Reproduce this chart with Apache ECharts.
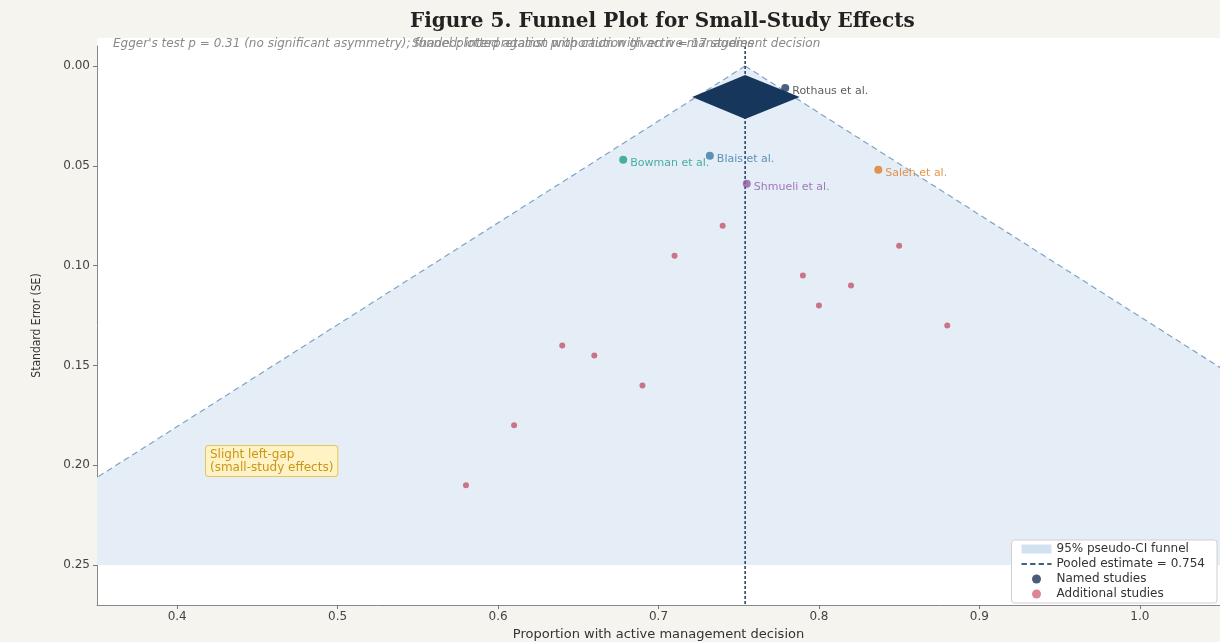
<!DOCTYPE html>
<html>
<head>
<meta charset="utf-8">
<script src="https://cdn.jsdelivr.net/npm/echarts@6/dist/echarts.min.js"></script>
<style>
html,body{margin:0;padding:0;background:#f6f4ef;}
#main{width:1220px;height:642px;}
</style>
</head>
<body>
<div id="main"></div>
<script>
// pooled estimate and funnel
var pooled = 0.754;
var pooledCI = [0.721, 0.788];
var pooledSE = 0.0155;
var funnelSE = [0, 0.25];

// named studies
var namedNames = ['Rothaus et al.', 'Blais et al.', 'Bowman et al.', 'Saleh et al.', 'Shmueli et al.'];
var namedX = [0.779, 0.732, 0.678, 0.837, 0.755];
var namedSE = [0.011, 0.045, 0.047, 0.052, 0.059];
var namedColors = ['#1f3a5f', '#3a78a8', '#1f9e89', '#e07b22', '#8e5aa8'];

// additional studies
var addX = [0.74, 0.71, 0.85, 0.79, 0.82, 0.80, 0.88, 0.64, 0.66, 0.69, 0.61, 0.58];
var addSE = [0.080, 0.095, 0.090, 0.105, 0.110, 0.120, 0.130, 0.140, 0.145, 0.160, 0.180, 0.210];

// ticks
var xTicks = [0.4, 0.5, 0.6, 0.7, 0.8, 0.9, 1.0];
var yTicks = [0, 0.05, 0.10, 0.15, 0.20, 0.25];

var myChart = echarts.init(document.getElementById('main'));

var z = 1.96;
var seTop = funnelSE[0], seBot = funnelSE[1];
var funnelPoly = [
    [pooled, seTop],
    [pooled - z * seBot, seBot],
    [pooled + z * seBot, seBot]
];

var namedData = [];
for (var i = 0; i < namedX.length; i++) {
    namedData.push({
        value: [namedX[i], namedSE[i]],
        name: namedNames[i],
        itemStyle: {color: namedColors[i]},
        label: {color: i == 0 ? '#333' : namedColors[i]}
    });
}
var addData = [];
for (var j = 0; j < addX.length; j++) addData.push([addX[j], addSE[j]]);

var font = 'DejaVu Sans';

option = {
    backgroundColor: '#f6f4ef',
    animation: false,
    title: {
        text: 'Figure 5. Funnel Plot for Small-Study Effects',
        left: 405, top: 7,
        textStyle: {fontFamily: 'DejaVu Serif', fontWeight: 'bold', fontSize: 20, color: '#222'}
    },
    grid: {left: 97, right: 0, top: 46, bottom: 37, outerBoundsMode: 'none',
        show: true, backgroundColor: '#fff', borderWidth: 0},
    legend: {
        orient: 'vertical', right: 3, bottom: 39,
        backgroundColor: '#fff', borderColor: '#d0d0d0', borderWidth: 1, borderRadius: 3,
        padding: [3, 12, 3, 10], itemGap: 3, itemWidth: 30, itemHeight: 9,
        textStyle: {fontFamily: font, fontSize: 12, color: '#333'},
        data: [
            {name: '95% pseudo-CI funnel', icon: 'rect', itemStyle: {color: '#d3e2f1'}},
            {name: 'Pooled estimate = 0.754', icon: 'path://M0,4h5v2h-5z M8,4h5v2h-5z M16,4h5v2h-5z M24,4h4v2h-4z', itemStyle: {color: '#3e5f86'}},
            {name: 'Named studies', icon: 'circle', itemStyle: {color: '#1a3558'}},
            {name: 'Additional studies', icon: 'circle', itemStyle: {color: '#d9788c'}}
        ]
    },
    xAxis: {
        type: 'value', min: 0.35, max: 1.05,
        name: 'Proportion with active management decision',
        nameLocation: 'middle', nameGap: 22,
        nameTextStyle: {fontFamily: font, fontSize: 13, color: '#333'},
        axisLine: {show: true, onZero: false, lineStyle: {color: '#888'}},
        axisTick: {show: true, length: 4, customValues: xTicks, lineStyle: {color: '#777'}},
        axisLabel: {customValues: xTicks, fontFamily: font, fontSize: 12, color: '#444', margin: 6,
            formatter: function (v) { return v.toFixed(1); }},
        splitLine: {show: false}
    },
    yAxis: {
        type: 'value', inverse: true, min: -0.01, max: 0.27,
        name: 'Standard Error (SE)',
        nameLocation: 'middle', nameGap: 54,
        nameTextStyle: {fontFamily: '"DejaVu Sans Condensed", "Liberation Sans Narrow", "Liberation Sans", sans-serif', fontSize: 12, color: '#333'},
        axisLine: {show: true, onZero: false, lineStyle: {color: '#888'}},
        axisTick: {show: true, length: 4, customValues: yTicks, lineStyle: {color: '#777'}},
        axisLabel: {customValues: yTicks, fontFamily: font, fontSize: 12, color: '#444', margin: 7,
            formatter: function (v) { return v.toFixed(2); }},
        splitLine: {show: false}
    },
    graphic: [
        // white strip under the subtitle line
        {type: 'rect', left: 97, top: 38, z: -1, silent: true,
            shape: {width: 1123, height: 8}, style: {fill: '#fff'}},
        {type: 'text', left: 113, top: 38, z: 100,
            style: {text: "Egger's test p = 0.31 (no significant asymmetry); funnel plotted against proportion with active management decision",
                fill: '#8a8a8a', font: 'italic 12px "DejaVu Sans"'}},
        {type: 'text', left: 412, top: 38, z: 100,
            style: {text: 'Shaded: interpretation with caution given n = 17 studies',
                fill: '#8a8a8a', font: 'italic 12px "DejaVu Sans"'}},
        {type: 'text', left: 205, top: 445, z: 100,
            style: {text: 'Slight left-gap\n(small-study effects)', fill: '#c9961a',
                font: '12px "DejaVu Sans"', lineHeight: 13,
                backgroundColor: '#fff3c6', borderColor: '#e9c35c', borderWidth: 1,
                borderRadius: 3, padding: [2, 4]}}
    ],
    series: [
        {
            name: '95% pseudo-CI funnel',
            type: 'custom', clip: true, z: 1,
            data: [0],
            renderItem: function (params, api) {
                var pts = funnelPoly.map(function (p) { return api.coord(p); });
                return {type: 'polygon', shape: {points: pts},
                    style: {fill: '#e5eef7', stroke: 'none'}};
            },
            itemStyle: {color: '#d3e2f1'}
        },
        {
            name: 'funnel-left', type: 'line', symbol: 'none', z: 2,
            data: [[pooled - z * seTop, seTop], [pooled - z * seBot, seBot]],
            lineStyle: {color: '#7ea3c6', width: 1.2, type: [6, 4]}
        },
        {
            name: 'funnel-right', type: 'line', symbol: 'none', z: 2,
            data: [[pooled + z * seTop, seTop], [pooled + z * seBot, seBot]],
            lineStyle: {color: '#7ea3c6', width: 1.2, type: [6, 4]}
        },
        {
            name: 'Pooled estimate = 0.754', type: 'line', symbol: 'none', z: 3,
            data: [[pooled, -0.01], [pooled, 0.27]],
            itemStyle: {color: '#1f3a5f'},
            lineStyle: {color: '#1f3a5f', width: 1.5, type: [3, 2]}
        },
        {
            name: 'Additional studies', type: 'scatter', z: 4,
            symbolSize: 6,
            itemStyle: {color: '#c8657c', opacity: 0.9},
            data: addData
        },
        {
            name: 'Named studies', type: 'scatter', z: 5,
            symbolSize: 8,
            itemStyle: {color: '#1a3558'},
            label: {show: true, position: 'right', distance: 3, offset: [0, 3],
                fontFamily: font, fontSize: 11,
                formatter: function (p) { return p.name; }},
            data: namedData
        },
        {
            name: 'pooled-diamond', type: 'custom', z: 10,
            data: [[pooled, pooledCI[0], pooledCI[1], pooledSE]],
            renderItem: function (params, api) {
                var c = api.coord([api.value(0), api.value(3)]);
                var l = api.coord([api.value(1), api.value(3)]);
                var r = api.coord([api.value(2), api.value(3)]);
                var h = 22;
                return {type: 'polygon',
                    shape: {points: [[l[0], c[1]], [c[0], c[1] - h], [r[0], c[1]], [c[0], c[1] + h]]},
                    style: {fill: '#16365c'}};
            }
        }
    ]
};

myChart.setOption(option);
</script>
</body>
</html>
